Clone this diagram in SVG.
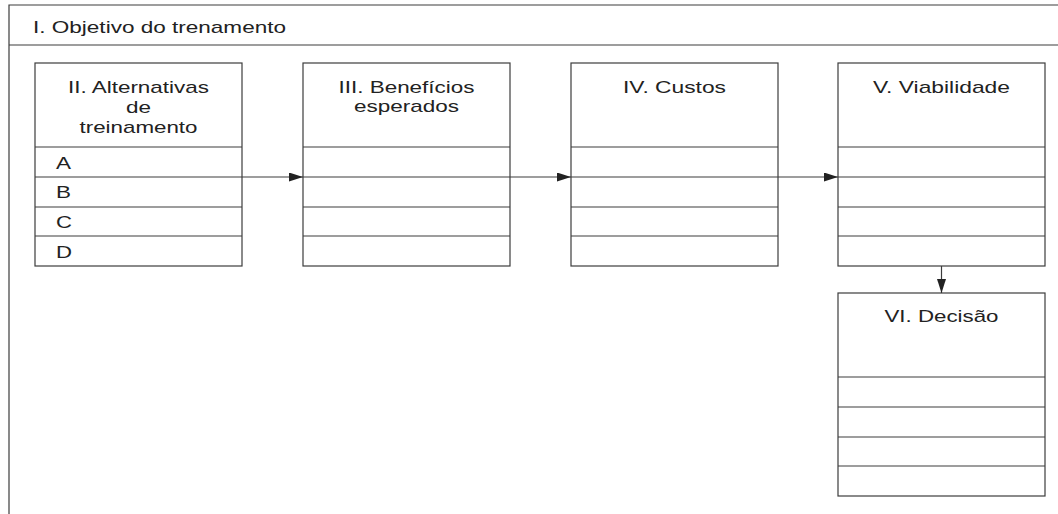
<svg xmlns="http://www.w3.org/2000/svg" width="1058" height="514" viewBox="0 0 1058 514">
<style>
.ln{stroke:#3c3c3c;stroke-width:1.2;fill:none}
.bx{stroke:#3c3c3c;stroke-width:1.2;fill:#ffffff}
.t{font-family:"Liberation Sans",Arial,sans-serif;font-size:17px;fill:#222222}
.c{text-anchor:middle}
</style>
<defs>
<marker id="ah" viewBox="0 0 14 9" refX="14" refY="4.5" markerWidth="14" markerHeight="9" markerUnits="userSpaceOnUse" orient="auto">
<path d="M0,0 L14,4.5 L0,9 Z" fill="#222222"/>
</marker>
</defs>
<rect width="1058" height="514" fill="#ffffff"/>
<g id="frame">
<path class="ln" d="M9,514 V5 H1058 M9,45 H1058"/>
<text class="t" x="33" y="33" textLength="253" lengthAdjust="spacingAndGlyphs">I. Objetivo do trenamento</text>
</g>
<g id="n2">
<rect class="bx" x="35" y="63" width="207" height="203"/>
<path class="ln" d="M35,147 H242 M35,177 H242 M35,207 H242 M35,236 H242"/>
<text class="t c" x="138.5" y="93" textLength="141" lengthAdjust="spacingAndGlyphs">II. Alternativas</text>
<text class="t c" x="138.5" y="113" textLength="25" lengthAdjust="spacingAndGlyphs">de</text>
<text class="t c" x="138.5" y="132.5" textLength="118" lengthAdjust="spacingAndGlyphs">treinamento</text>
<text class="t" x="56" y="169" textLength="15" lengthAdjust="spacingAndGlyphs">A</text>
<text class="t" x="56" y="198" textLength="15" lengthAdjust="spacingAndGlyphs">B</text>
<text class="t" x="56" y="228" textLength="16" lengthAdjust="spacingAndGlyphs">C</text>
<text class="t" x="56" y="257.5" textLength="16" lengthAdjust="spacingAndGlyphs">D</text>
</g>
<g id="n3">
<rect class="bx" x="303" y="63" width="207" height="203"/>
<path class="ln" d="M303,147 H510 M303,177 H510 M303,207 H510 M303,236 H510"/>
<text class="t c" x="406.5" y="93" textLength="136" lengthAdjust="spacingAndGlyphs">III. Benefícios</text>
<text class="t c" x="406.5" y="112" textLength="105" lengthAdjust="spacingAndGlyphs">esperados</text>
</g>
<g id="n4">
<rect class="bx" x="571" y="63" width="207" height="203"/>
<path class="ln" d="M571,147 H778 M571,177 H778 M571,207 H778 M571,236 H778"/>
<text class="t c" x="674.5" y="93" textLength="103" lengthAdjust="spacingAndGlyphs">IV. Custos</text>
</g>
<g id="n5">
<rect class="bx" x="838" y="63" width="207" height="203"/>
<path class="ln" d="M838,147 H1045 M838,177 H1045 M838,207 H1045 M838,236 H1045"/>
<text class="t c" x="941.5" y="93" textLength="137" lengthAdjust="spacingAndGlyphs">V. Viabilidade</text>
</g>
<g id="n6">
<rect class="bx" x="838" y="293" width="207" height="203"/>
<path class="ln" d="M838,377 H1045 M838,407 H1045 M838,437 H1045 M838,466 H1045"/>
<text class="t c" x="941.5" y="322" textLength="114" lengthAdjust="spacingAndGlyphs">VI. Decisão</text>
</g>
<g id="connectors">
<path class="ln" d="M242,177 H303" marker-end="url(#ah)"/>
<path class="ln" d="M510,177 H571" marker-end="url(#ah)"/>
<path class="ln" d="M778,177 H838" marker-end="url(#ah)"/>
<path class="ln" d="M941.5,266 V293" marker-end="url(#ah)"/>
</g>
</svg>
